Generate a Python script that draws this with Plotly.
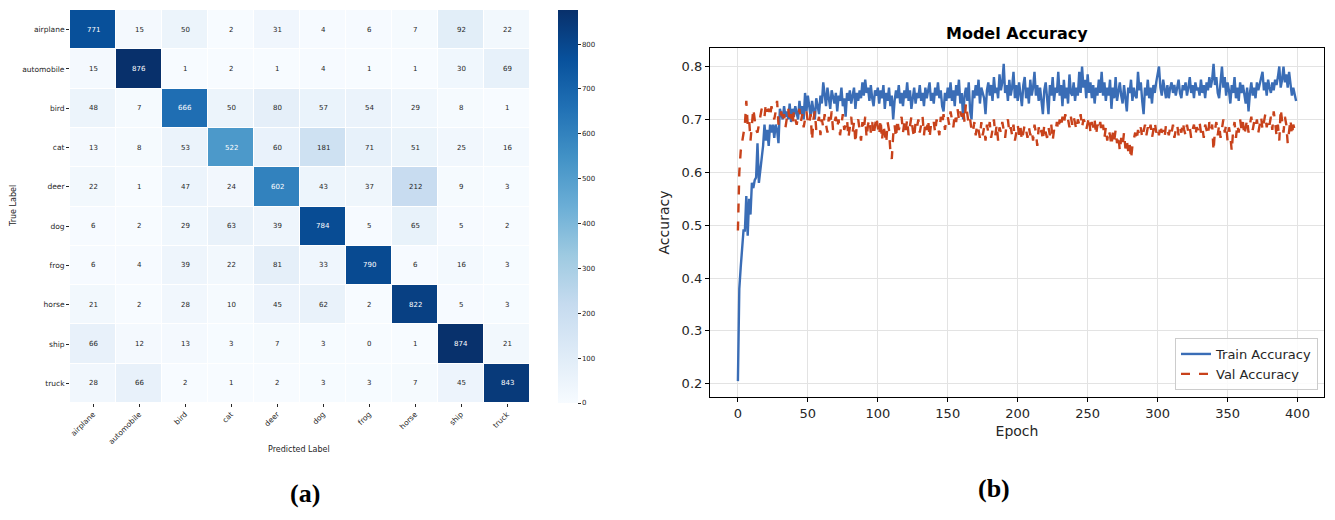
import plotly.graph_objects as go
import plotly.express as px

classes = ["airplane", "automobile", "bird", "cat", "deer", "dog", "frog", "horse", "ship", "truck"]
confusion = [
    [771, 15, 50, 2, 31, 4, 6, 7, 92, 22],
    [15, 876, 1, 2, 1, 4, 1, 1, 30, 69],
    [48, 7, 666, 50, 80, 57, 54, 29, 8, 1],
    [13, 8, 53, 522, 60, 181, 71, 51, 25, 16],
    [22, 1, 47, 24, 602, 43, 37, 212, 9, 3],
    [6, 2, 29, 63, 39, 784, 5, 65, 5, 2],
    [6, 4, 39, 22, 81, 33, 790, 6, 16, 3],
    [21, 2, 28, 10, 45, 62, 2, 822, 5, 3],
    [66, 12, 13, 3, 7, 3, 0, 1, 874, 21],
    [28, 66, 2, 1, 2, 3, 3, 7, 45, 843],
]

train_acc = [
    .205,.380,.420,.450,.490,.490,.555,.480,.550,.520,
    .580,.570,.585,.590,.655,.580,.600,.630,.650,.690,
    .660,.680,.650,.690,.675,.690,.665,.690,.680,.655,
    .720,.710,.700,.725,.705,.715,.700,.730,.695,.720,
    .705,.725,.715,.700,.735,.710,.725,.700,.750,.715,
    .745,.720,.705,.735,.715,.700,.740,.725,.710,.745,
    .730,.770,.745,.725,.760,.735,.720,.755,.740,.730,
    .750,.715,.745,.735,.760,.725,.740,.705,.750,.735,
    .755,.730,.745,.760,.720,.750,.735,.755,.740,.770,
    .745,.775,.750,.760,.735,.765,.740,.725,.755,.745,
    .760,.730,.755,.740,.765,.720,.750,.735,.760,.725,
    .745,.700,.735,.755,.740,.765,.730,.750,.725,.755,
    .740,.770,.735,.755,.720,.745,.760,.730,.750,.740,
    .765,.735,.750,.725,.760,.740,.755,.770,.735,.750,
    .730,.760,.745,.770,.740,.755,.725,.715,.750,.735,
    .760,.740,.770,.735,.755,.725,.765,.745,.775,.730,
    .750,.700,.745,.760,.735,.770,.715,.700,.755,.740,
    .765,.745,.775,.730,.760,.750,.740,.710,.755,.770,
    .745,.765,.735,.780,.750,.760,.740,.785,.755,.770,
    .805,.750,.765,.735,.775,.745,.760,.790,.740,.765,
    .735,.770,.750,.725,.765,.780,.740,.760,.730,.775,
    .745,.760,.790,.745,.765,.735,.760,.730,.710,.755,
    .770,.740,.710,.765,.745,.780,.735,.760,.750,.790,
    .745,.765,.725,.775,.740,.760,.730,.785,.750,.745,
    .770,.735,.760,.745,.790,.750,.800,.760,.775,.740,
    .785,.750,.770,.740,.765,.730,.760,.745,.775,.750,
    .790,.745,.770,.735,.760,.745,.775,.720,.760,.740,
    .780,.735,.755,.770,.745,.730,.765,.740,.715,.760,
    .750,.775,.735,.760,.745,.740,.790,.755,.770,.735,
    .710,.760,.745,.775,.740,.760,.730,.765,.750,.770,
    .785,.800,.760,.745,.775,.755,.740,.765,.740,.760,
    .770,.750,.765,.745,.760,.775,.750,.740,.765,.755,
    .770,.745,.760,.780,.750,.765,.740,.770,.755,.760,
    .745,.775,.750,.765,.740,.770,.755,.780,.760,.775,
    .805,.765,.780,.750,.740,.775,.800,.760,.780,.745,
    .770,.755,.730,.765,.750,.780,.740,.760,.735,.770,
    .750,.765,.745,.730,.760,.715,.750,.770,.745,.760,
    .740,.770,.755,.765,.780,.790,.755,.770,.745,.775,
    .760,.750,.770,.755,.775,.765,.780,.800,.760,.775,
    .800,.770,.785,.760,.790,.765,.745,.760,.750,.735,
]

val_acc = [
    .490,.600,.640,.660,.680,.690,.735,.690,.700,.660,
    .690,.720,.700,.680,.675,.690,.710,.720,.715,.705,
    .730,.715,.720,.705,.725,.710,.700,.715,.735,.690,
    .705,.715,.695,.710,.685,.700,.720,.695,.710,.690,
    .715,.700,.690,.705,.720,.695,.710,.685,.700,.715,
    .695,.690,.710,.660,.700,.715,.680,.695,.705,.670,
    .700,.685,.710,.690,.675,.705,.690,.715,.680,.695,
    .705,.685,.700,.670,.695,.710,.680,.690,.700,.665,
    .690,.705,.675,.695,.655,.690,.700,.680,.660,.695,
    .680,.705,.665,.690,.700,.675,.695,.670,.690,.705,
    .685,.670,.700,.660,.690,.675,.655,.695,.680,.640,
    .625,.670,.690,.665,.700,.680,.690,.705,.675,.695,
    .680,.700,.670,.690,.705,.680,.665,.695,.685,.700,
    .675,.690,.705,.670,.695,.680,.700,.665,.690,.685,
    .695,.675,.700,.685,.670,.705,.690,.710,.680,.700,
    .705,.690,.715,.700,.685,.710,.695,.720,.700,.715,
    .705,.720,.695,.730,.710,.690,.700,.680,.675,.695,
    .670,.690,.680,.665,.695,.670,.685,.660,.690,.675,
    .695,.665,.680,.700,.670,.690,.660,.685,.675,.695,
    .680,.665,.690,.700,.675,.685,.670,.690,.660,.680,
    .690,.670,.685,.660,.675,.690,.680,.665,.685,.670,
    .680,.660,.690,.675,.650,.685,.670,.680,.660,.690,
    .675,.665,.685,.670,.690,.660,.680,.675,.695,.680,
    .700,.685,.705,.690,.710,.695,.700,.685,.705,.690,
    .705,.695,.680,.700,.690,.710,.685,.700,.695,.680,
    .690,.705,.675,.695,.685,.700,.670,.690,.680,.695,
    .675,.690,.665,.685,.660,.680,.670,.650,.675,.660,
    .680,.655,.670,.640,.665,.650,.675,.645,.660,.640,
    .655,.625,.650,.665,.675,.660,.680,.670,.685,.665,
    .680,.690,.670,.685,.675,.690,.665,.680,.695,.675,
    .685,.670,.690,.675,.680,.665,.690,.680,.670,.685,
    .675,.690,.665,.680,.690,.670,.685,.675,.695,.680,
    .670,.690,.675,.685,.665,.680,.690,.670,.685,.680,
    .695,.675,.685,.665,.690,.680,.670,.695,.680,.690,
    .640,.680,.695,.670,.690,.665,.685,.700,.675,.690,
    .660,.685,.670,.640,.680,.695,.665,.690,.675,.700,
    .680,.695,.670,.690,.700,.675,.690,.705,.680,.695,
    .685,.700,.675,.690,.705,.680,.695,.710,.685,.700,
    .690,.705,.680,.715,.695,.670,.690,.660,.720,.700,
    .675,.705,.690,.655,.685,.700,.670,.690,.680,.685,
]
epochs = list(range(len(train_acc)))

W, H = 1335, 520
def px_x(p):
    return p / W
def px_y(p):
    return 1 - p / H

TXT = "#262626"
FONT = "DejaVu Sans"

fig = go.Figure()

fig.add_trace(go.Heatmap(
    z=confusion, x=classes, y=classes,
    colorscale=px.colors.sequential.Blues, zmin=0, zmax=876,
    xgap=1, ygap=1,
    xaxis="x", yaxis="y",
    showlegend=False,
    colorbar=dict(
        x=px_x(558), xanchor="left", y=px_y(10), yanchor="top",
        len=(403 - 10) / H, lenmode="fraction", thickness=20,
        xpad=0, ypad=0,
        outlinewidth=0, tickvals=list(range(0, 900, 100)),
        ticks="outside", ticklen=3, tickcolor=TXT,
        tickfont=dict(size=7, color=TXT, family=FONT),
    ),
    hoverinfo="skip",
))

annotations = []
for i, row in enumerate(confusion):
    for j, v in enumerate(row):
        annotations.append(dict(
            x=classes[j], y=classes[i], xref="x", yref="y", text=str(v),
            showarrow=False,
            font=dict(size=7, family=FONT, color="white" if v > 450 else TXT),
        ))

fig.add_trace(go.Scatter(
    x=epochs, y=train_acc, mode="lines", name="Train Accuracy",
    line=dict(color="#3a6db6", width=2.4),
    xaxis="x2", yaxis="y2",
))
fig.add_trace(go.Scatter(
    x=epochs, y=val_acc, mode="lines", name="Val Accuracy",
    line=dict(color="#c8421b", width=2.4, dash="dash"),
    xaxis="x2", yaxis="y2",
))

def note(text, x, y, size, family=FONT, color=TXT, angle=0):
    return dict(text=text, x=px_x(x), y=px_y(y), xref="paper", yref="paper",
                xanchor="center", yanchor="middle", showarrow=False, textangle=angle,
                font=dict(size=size, family=family, color=color))

annotations += [
    note("True Label", 14, 206, 8, angle=-90),
    note("Predicted Label", 299, 449, 8),
    note("<b>(a)</b>", 305, 493, 26, family="Liberation Serif", color="black"),
    note("<b>(b)</b>", 994, 488, 26, family="Liberation Serif", color="black"),
    note("<b>Model Accuracy</b>", 1017, 33, 16, color="black"),
]

fig.update_layout(
    width=W, height=H,
    margin=dict(l=0, r=0, t=0, b=0),
    paper_bgcolor="white", plot_bgcolor="white",
    font=dict(family=FONT, color=TXT),
    showlegend=True,
    legend=dict(
        x=px_x(1318), xanchor="right", y=px_y(390), yanchor="bottom",
        bgcolor="rgba(255,255,255,0.85)", bordercolor="#cccccc", borderwidth=1,
        font=dict(size=13, family=FONT, color=TXT),
    ),
    xaxis=dict(
        domain=[px_x(70), px_x(530)], anchor="y",
        tickangle=-45, ticks="outside", ticklen=3, tickcolor=TXT,
        tickfont=dict(size=7.5, family=FONT, color=TXT),
        showgrid=False, zeroline=False, showline=False,
    ),
    yaxis=dict(
        domain=[px_y(403), px_y(10)], anchor="x",
        autorange="reversed", ticks="outside", ticklen=3, tickcolor=TXT,
        tickfont=dict(size=7.5, family=FONT, color=TXT),
        showgrid=False, zeroline=False, showline=False,
    ),
    xaxis2=dict(
        domain=[px_x(710), px_x(1324)], anchor="y2",
        range=[-19.95, 418.95], tickvals=list(range(0, 401, 50)),
        ticks="outside", ticklen=4, tickcolor="black",
        tickfont=dict(size=13, family=FONT, color=TXT),
        showgrid=True, gridcolor="#e3e3e3", gridwidth=1, zeroline=False,
        showline=True, linecolor="black", linewidth=1.2, mirror=True,
        title=dict(text="Epoch", font=dict(size=14, family=FONT, color=TXT), standoff=6),
    ),
    yaxis2=dict(
        domain=[px_y(397), px_y(48)], anchor="x2",
        range=[0.175, 0.835], tickvals=[0.2, 0.3, 0.4, 0.5, 0.6, 0.7, 0.8],
        ticks="outside", ticklen=4, tickcolor="black",
        tickfont=dict(size=13, family=FONT, color=TXT),
        showgrid=True, gridcolor="#e3e3e3", gridwidth=1, zeroline=False,
        showline=True, linecolor="black", linewidth=1.2, mirror=True,
        title=dict(text="Accuracy", font=dict(size=14, family=FONT, color=TXT), standoff=8),
    ),
    annotations=annotations,
)

fig.write_html("out.html")
